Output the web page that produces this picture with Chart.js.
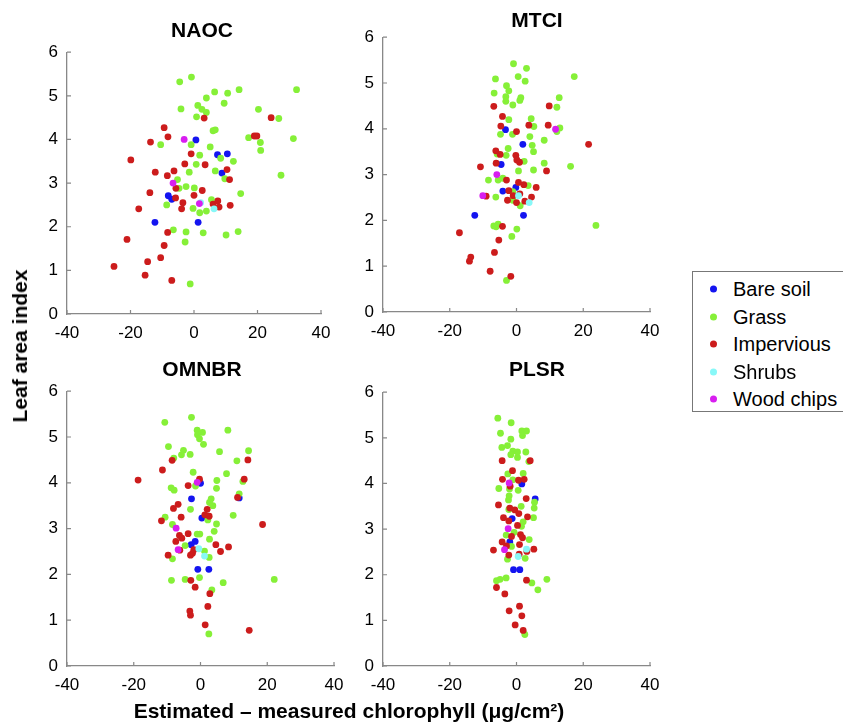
<!DOCTYPE html>
<html>
<head>
<meta charset="utf-8">
<script src="https://cdn.jsdelivr.net/npm/chart.js@4.4.1/dist/chart.umd.min.js"></script>
<style>
  body { margin: 0; background: #fff; }
  #wrap { position: relative; width: 843px; height: 725px; background: #fff; overflow: hidden; font-family: "Liberation Sans", Arial, sans-serif; }
  canvas { position: absolute; }
  .title { position: absolute; font-weight: bold; font-size: 21px; transform: translate(-50%, -50%); white-space: nowrap; }
  .axlabel { position: absolute; font-weight: bold; font-size: 21px; white-space: nowrap; transform: translate(-50%, -50%); }
  #legend { position: absolute; left: 692px; top: 271px; width: 160px; height: 141px; border: 1px solid #777; box-sizing: border-box; }
  .lg { position: absolute; left: 40px; font-size: 20px; transform: translateY(-50%); white-space: nowrap; }
  .dot { position: absolute; left: 17px; width: 7px; height: 7px; border-radius: 50%; transform: translateY(-50%); }
</style>
</head>
<body>
<div id="wrap">
  <canvas id="naoc"></canvas>
  <canvas id="mtci"></canvas>
  <canvas id="omnbr"></canvas>
  <canvas id="plsr"></canvas>
  <div class="title" style="left:202px;top:30px">NAOC</div>
  <div class="title" style="left:537px;top:20px">MTCI</div>
  <div class="title" style="left:202px;top:369px">OMNBR</div>
  <div class="title" style="left:537px;top:369px">PLSR</div>
  <div class="axlabel" style="left:20px;top:346px;transform:translate(-50%,-50%) rotate(-90deg)">Leaf area index</div>
  <div class="axlabel" style="left:349px;top:711px">Estimated – measured chlorophyll (μg/cm²)</div>
  <div id="legend"></div>
</div>
<script>
// class names and colours
const classes = ['Bare soil', 'Grass', 'Impervious', 'Shrubs', 'Wood chips'];
const colors = ['#1414f0', '#86f038', '#cc1c1c', '#88f8f8', '#d81ef0'];

// axis ticks
const xTicks = [-40, -20, 0, 20, 40];
const yTicks = [0, 1, 2, 3, 4, 5, 6];

// NAOC  [estimated - measured, LAI]
const naocBare = [[0.6,3.99],[7.4,3.65],[10.5,3.67],[8.8,3.23],[-8.1,2.71],[-7.0,2.63],[-12.3,2.10],[1.3,2.10]];
const naocGrass = [[-4.5,5.32],[-0.8,5.43],[6.5,5.09],[3.9,4.95],[10.6,5.06],[14.2,5.14],[32.3,5.14],[-4.1,4.70],
  [1.2,4.78],[2.5,4.69],[3.9,4.62],[0.8,4.52],[9.5,4.83],[20.3,4.69],[26.7,4.48],[6.0,4.20],[6.7,4.22],[17.2,4.04],
  [20.9,3.93],[21.0,3.75],[31.3,4.02],[-10.5,3.88],[-0.9,3.88],[5.1,3.83],[1.8,3.64],[8.4,3.57],[12.4,3.50],[0.7,3.43],
  [-1.5,3.25],[6.7,3.28],[27.4,3.18],[-5.2,3.08],[9.7,3.10],[-2.5,2.92],[0.1,2.89],[-4.7,2.88],[14.7,2.76],[-8.6,2.50],
  [-0.3,2.42],[1.8,2.32],[3.9,2.36],[5.5,2.62],[-6.5,1.93],[-2.5,1.88],[2.9,1.86],[-2.8,1.65],[10.1,1.81],[13.9,1.89],[-1.2,0.69]];
const naocImp = [[-9.4,4.27],[-8.2,4.06],[-13.7,3.94],[3.2,4.49],[24.3,4.50],[19.0,4.08],[19.8,4.08],[-19.9,3.53],
  [-0.9,3.67],[-2.9,3.44],[3.5,3.42],[-12.2,3.25],[-6.3,3.28],[-8.4,3.17],[10.4,3.31],[11.2,3.08],[-5.7,2.88],[2.6,2.83],
  [-13.9,2.78],[0.0,2.72],[-5.8,2.66],[-3.5,2.55],[-3.9,2.41],[-17.4,2.41],[6.0,2.52],[7.5,2.59],[7.9,2.45],[11.4,2.49],
  [-8.3,1.87],[-21.1,1.71],[-9.4,1.57],[-10.5,1.29],[-14.6,1.20],[-25.2,1.09],[-15.4,0.89],[-7.0,0.77]];
const naocShrub = [[2.1,2.55],[6.3,2.41]];
const naocWood = [[-3.1,4.00],[-6.6,3.00],[1.7,2.53]];

// MTCI
const mtciBare = [[-3.3,3.98],[1.9,3.66],[-4.6,3.22],[-4.1,2.64],[-0.2,2.72],[-12.5,2.11],[2.1,2.11]];
const mtciGrass = [[-0.9,5.42],[3.0,5.32],[0.5,5.14],[2.6,5.04],[-6.3,5.09],[17.3,5.14],[-3.0,4.94],[-2.3,4.83],
  [-6.7,4.78],[-3.2,4.70],[-3.2,4.60],[1.3,4.68],[1.0,4.62],[-1.1,4.52],[12.8,4.68],[12.1,4.47],[-2.3,4.20],[4.4,4.22],
  [5.2,4.05],[-4.8,3.88],[-1.2,3.88],[4.0,3.83],[8.3,3.75],[13.0,4.02],[12.1,3.94],[4.7,3.64],[5.1,3.50],[-2.5,3.57],
  [-5.8,3.45],[-3.1,3.42],[2.3,3.29],[8.3,3.25],[16.2,3.18],[0.6,3.08],[5.1,3.10],[-8.4,2.88],[-5.5,2.88],[-4.1,2.92],
  [3.5,2.76],[-1.1,2.63],[-6.2,2.51],[-1.1,2.44],[1.1,2.32],[23.8,1.89],[-6.8,1.88],[-5.5,1.92],[-6.1,1.86],[0.1,1.81],
  [-1.4,1.65],[-3.0,0.69]];
const mtciImp = [[-6.8,4.49],[9.8,4.50],[-4.2,4.27],[-4.7,4.06],[3.7,4.08],[9.5,4.08],[0.0,3.94],[21.6,3.66],
  [-6.2,3.52],[-4.9,3.44],[-0.2,3.42],[0.1,3.32],[0.9,3.27],[-6.1,3.25],[-10.8,3.17],[9.0,3.08],[-3.0,2.88],[0.6,2.83],
  [2.2,2.78],[5.9,2.72],[-2.3,2.65],[1.0,2.58],[-1.0,2.54],[-9.1,2.53],[4.5,2.51],[-2.7,2.44],[0.0,2.39],[2.5,2.42],
  [-4.2,1.87],[-17.1,1.73],[-5.3,1.57],[-6.6,1.30],[-13.7,1.20],[-14.1,1.11],[-7.9,0.89],[-1.7,0.78]];
const mtciShrub = [[0.6,2.54],[3.8,2.39]];
const mtciWood = [[11.7,3.99],[-5.9,3.00],[-10.1,2.54]];

// OMNBR
const omnbrBare = [[0.0,3.99],[-2.7,3.65],[11.6,3.67],[0.4,3.23],[-1.6,2.72],[-2.8,2.65],[-0.8,2.11],[2.5,2.11]];
const omnbrGrass = [[-10.7,5.32],[-2.7,5.43],[-1.0,5.15],[0.6,5.10],[-0.9,5.05],[-0.3,4.96],[0.9,4.84],[8.2,5.15],
  [-9.6,4.79],[-5.1,4.71],[-5.7,4.61],[-3.1,4.62],[-8.0,4.54],[5.7,4.68],[14.4,4.70],[10.9,4.48],[-2.2,4.23],[7.8,4.20],
  [4.9,4.05],[12.7,4.03],[-8.8,3.89],[-7.9,3.84],[-1.5,3.93],[4.8,3.88],[11.6,3.76],[3.2,3.65],[2.7,3.57],[3.7,3.50],
  [-3.0,3.42],[9.8,3.29],[-10.6,3.25],[2.2,3.19],[4.8,3.10],[-8.4,3.09],[-1.0,2.88],[-0.2,2.88],[4.1,2.94],[2.7,2.77],
  [-4.6,2.63],[1.2,2.51],[2.6,2.37],[-8.4,2.34],[-0.3,1.93],[-8.7,1.87],[-4.6,1.89],[6.8,1.82],[22.1,1.89],[3.4,1.66],[2.5,0.70]];
const omnbrImp = [[-8.5,4.49],[14.2,4.50],[-11.4,4.28],[-18.7,4.06],[-0.3,4.08],[13.1,4.08],[-3.7,3.94],[11.1,3.68],
  [-6.7,3.53],[-8.1,3.44],[2.0,3.42],[1.3,3.30],[2.6,3.27],[-5.8,3.25],[-11.7,3.17],[18.6,3.09],[-3.7,2.89],[-6.3,2.85],
  [-5.6,2.79],[-7.4,2.72],[4.6,2.65],[8.4,2.60],[6.0,2.50],[-2.0,2.54],[-2.4,2.46],[-3.0,2.42],[-9.7,2.42],[-6.2,2.53],
  [-2.9,1.87],[-1.6,1.72],[2.8,1.58],[-3.2,1.20],[-3.0,1.11],[2.2,1.30],[1.4,0.90],[14.6,0.78]];
const omnbrShrub = [[-0.5,2.56],[1.2,2.40]];
const omnbrWood = [[-1.0,4.01],[-7.3,3.01],[-6.7,2.54]];

// PLSR
const plsrBare = [[1.6,3.99],[5.6,3.66],[-1.3,3.23],[-2.0,2.72],[-0.9,2.11],[1.0,2.11]];
const plsrGrass = [[-5.6,5.43],[-1.6,5.33],[1.6,5.15],[3.0,5.15],[1.8,5.05],[-4.8,5.10],[-1.7,4.97],[-2.7,4.83],
  [-4.4,4.79],[-1.1,4.71],[-1.7,4.63],[0.3,4.69],[0.3,4.57],[2.8,4.69],[3.7,4.48],[-2.6,4.21],[2.0,4.22],[-1.1,4.08],
  [-5.3,3.89],[-2.1,3.88],[0.5,3.85],[-2.2,3.73],[-2.4,3.64],[5.4,3.59],[5.3,3.46],[1.4,3.50],[5.1,3.25],[-2.3,3.43],
  [2.0,3.16],[1.5,3.06],[-0.7,2.93],[-3.1,2.87],[3.8,2.77],[-1.5,2.62],[-2.7,2.34],[2.6,2.36],[-6.0,1.87],[-4.9,1.90],
  [-3.1,1.93],[4.6,1.82],[9.1,1.90],[6.4,1.67],[2.5,0.69]];
const plsrImp = [[-4.3,4.50],[4.1,4.50],[-1.2,4.28],[-4.2,4.09],[0.6,4.07],[2.3,4.09],[-1.9,3.94],[2.9,3.67],
  [-5.4,3.53],[-2.0,3.46],[-0.5,3.42],[0.7,3.34],[-3.9,3.25],[3.3,3.27],[-2.3,3.18],[0.3,3.08],[-1.5,2.84],[1.2,2.88],
  [1.8,2.81],[-4.3,2.72],[-3.0,2.63],[0.9,2.66],[-6.9,2.54],[5.2,2.56],[3.1,2.51],[-2.3,2.43],[0.8,2.45],[-6.0,1.72],
  [3.0,1.88],[-3.5,1.58],[0.9,1.31],[-2.2,1.21],[1.6,1.10],[-0.4,0.90],[2.0,0.78]];
const plsrShrub = [[3.0,2.56],[0.5,2.40]];
const plsrWood = [[-2.2,4.01],[-2.5,3.01],[-3.6,2.55]];

// small inward tick marks like the original axes
const inwardTicks = {
  id: 'inwardTicks',
  afterDraw(chart) {
    const ctx = chart.ctx, a = chart.chartArea;
    const xs = chart.scales.x, ys = chart.scales.y;
    ctx.save();
    ctx.strokeStyle = '#888';
    ctx.lineWidth = 1.2;
    ctx.beginPath();
    xs.ticks.forEach(t => {
      const px = xs.getPixelForValue(t.value);
      ctx.moveTo(px, a.bottom);
      ctx.lineTo(px, a.bottom - 4);
    });
    ys.ticks.forEach(t => {
      const py = ys.getPixelForValue(t.value);
      ctx.moveTo(a.left, py);
      ctx.lineTo(a.left + 4, py);
    });
    ctx.stroke();
    ctx.restore();
  }
};

function makePanel(id, left, top, w, h, groups) {
  const yW = 45, xH = 35, padTop = 10, padRight = 20;
  const cv = document.getElementById(id);
  cv.width = yW + w + padRight;
  cv.height = padTop + h + xH;
  cv.style.left = (left - yW) + 'px';
  cv.style.top = (top - padTop) + 'px';

  const datasets = groups.map((g, i) => ({
    label: classes[i],
    data: g.map(p => ({ x: p[0], y: p[1] })),
    backgroundColor: colors[i],
    pointRadius: 3.4,
    pointBorderWidth: 0,
    order: groups.length - i
  }));

  new Chart(cv, {
    type: 'scatter',
    data: { datasets: datasets },
    options: {
      responsive: false,
      animation: false,
      layout: { padding: { top: padTop, right: padRight, left: 0, bottom: 0 } },
      plugins: { legend: { display: false }, tooltip: { enabled: false } },
      scales: {
        x: {
          type: 'linear',
          min: xTicks[0],
          max: xTicks[xTicks.length - 1],
          afterBuildTicks: s => { s.ticks = xTicks.map(v => ({ value: v })); },
          afterFit: s => { s.height = xH; },
          grid: { display: false, drawTicks: false },
          border: { display: true, color: '#888', width: 1.3 },
          ticks: { color: '#000', padding: 9, font: { family: 'Liberation Sans', size: 17 } }
        },
        y: {
          type: 'linear',
          min: yTicks[0],
          max: yTicks[yTicks.length - 1],
          afterBuildTicks: s => { s.ticks = yTicks.map(v => ({ value: v })); },
          afterFit: s => { s.width = yW; },
          grid: { display: false, drawTicks: false },
          border: { display: true, color: '#888', width: 1.3 },
          ticks: { color: '#000', padding: 9, font: { family: 'Liberation Sans', size: 17 } }
        }
      }
    },
    plugins: [inwardTicks]
  });
}

makePanel('naoc', 67, 43, 254, 271, [naocBare, naocGrass, naocImp, naocShrub, naocWood]);
makePanel('mtci', 383, 28, 267, 284, [mtciBare, mtciGrass, mtciImp, mtciShrub, mtciWood]);
makePanel('omnbr', 67, 382, 267, 284, [omnbrBare, omnbrGrass, omnbrImp, omnbrShrub, omnbrWood]);
makePanel('plsr', 383, 383, 267, 283, [plsrBare, plsrGrass, plsrImp, plsrShrub, plsrWood]);

// legend box on the right
const lg = document.getElementById('legend');
classes.forEach((c, i) => {
  const y = 17 + i * 27.5;
  const d = document.createElement('div');
  d.className = 'dot';
  d.style.top = y + 'px';
  d.style.background = colors[i];
  lg.appendChild(d);
  const t = document.createElement('div');
  t.className = 'lg';
  t.style.top = y + 'px';
  t.textContent = c;
  lg.appendChild(t);
});
</script>
</body>
</html>
